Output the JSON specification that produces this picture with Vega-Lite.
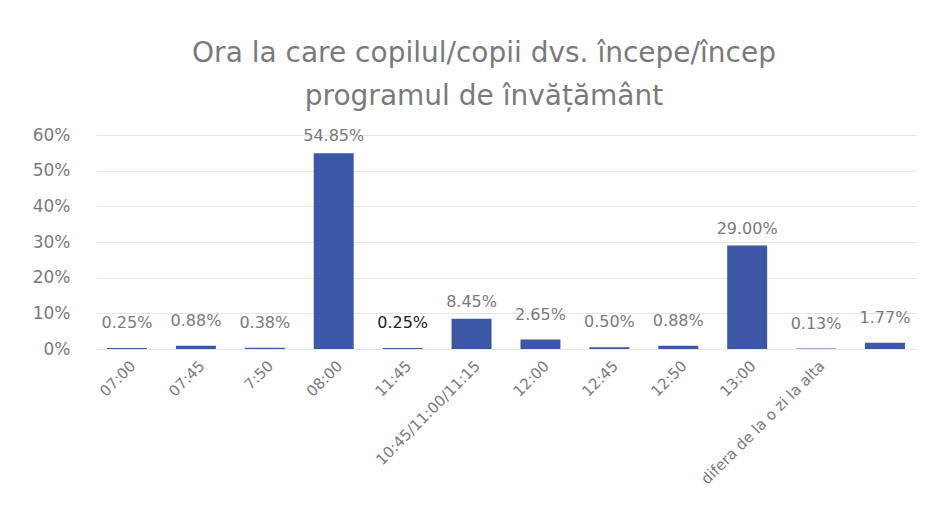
{
  "$schema": "https://vega.github.io/schema/vega-lite/v6.json",
  "width": 820,
  "height": 214,
  "padding": {"left": 32, "top": 40, "right": 20, "bottom": 5},
  "background": "white",
  "title": {
    "text": ["Ora la care copilul/copii dvs. începe/încep", "programul de învățământ"],
    "font": "DejaVu Sans",
    "fontSize": 28,
    "fontWeight": "normal",
    "color": "#7a7a7a",
    "lineHeight": 43,
    "anchor": "middle",
    "dx": -22,
    "offset": 15
  },
  "data": {
    "values": [
      {"ora": "07:00", "procent": 0.0025},
      {"ora": "07:45", "procent": 0.0088},
      {"ora": "7:50", "procent": 0.0038},
      {"ora": "08:00", "procent": 0.5485},
      {"ora": "11:45", "procent": 0.0025},
      {"ora": "10:45/11:00/11:15", "procent": 0.0845},
      {"ora": "12:00", "procent": 0.0265},
      {"ora": "12:45", "procent": 0.005},
      {"ora": "12:50", "procent": 0.0088},
      {"ora": "13:00", "procent": 0.29},
      {"ora": "difera de la o zi la alta", "procent": 0.0013},
      {"ora": " ", "procent": 0.0177}
    ]
  },
  "encoding": {
    "x": {
      "field": "ora",
      "type": "nominal",
      "sort": null,
      "scale": {"paddingInner": 0.42, "paddingOuter": 0.16},
      "axis": {
        "title": null,
        "labelAngle": -45,
        "labelAlign": "right",
        "labelBaseline": "middle",
        "labelFont": "DejaVu Sans",
        "labelFontSize": 15,
        "labelColor": "#7a7a7a",
        "labelPadding": 14,
        "labelOffset": 6,
        "domain": false,
        "ticks": false,
        "labelOverlap": false
      }
    },
    "y": {
      "field": "procent",
      "type": "quantitative",
      "scale": {"domain": [0, 0.6]},
      "axis": {
        "title": null,
        "format": ".0%",
        "values": [0, 0.1, 0.2, 0.3, 0.4, 0.5, 0.6],
        "labelFont": "DejaVu Sans",
        "labelFontSize": 17,
        "labelColor": "#7a7a7a",
        "labelPadding": 26,
        "domain": false,
        "ticks": false,
        "gridColor": "#e6e6e6",
        "gridWidth": 1
      }
    }
  },
  "layer": [
    {"mark": {"type": "bar", "color": "#3b57a6"}},
    {
      "transform": [{"filter": "datum.procent < 0.03"}],
      "mark": {"type": "text", "baseline": "bottom", "dy": -17, "font": "DejaVu Sans", "fontSize": 16},
      "encoding": {
        "text": {"field": "procent", "type": "quantitative", "format": ".2%"},
        "color": {
          "condition": {"test": "datum.ora === '11:45'", "value": "#222222"},
          "value": "#7a7a7a"
        },
        "fontWeight": {
          "condition": {"test": "datum.ora === '11:45'", "value": "bold"},
          "value": "normal"
        }
      }
    },
    {
      "transform": [{"filter": "datum.procent >= 0.03"}],
      "mark": {"type": "text", "baseline": "bottom", "dy": -9, "font": "DejaVu Sans", "fontSize": 16, "color": "#7a7a7a"},
      "encoding": {
        "text": {"field": "procent", "type": "quantitative", "format": ".2%"}
      }
    }
  ],
  "config": {"view": {"stroke": null}}
}
